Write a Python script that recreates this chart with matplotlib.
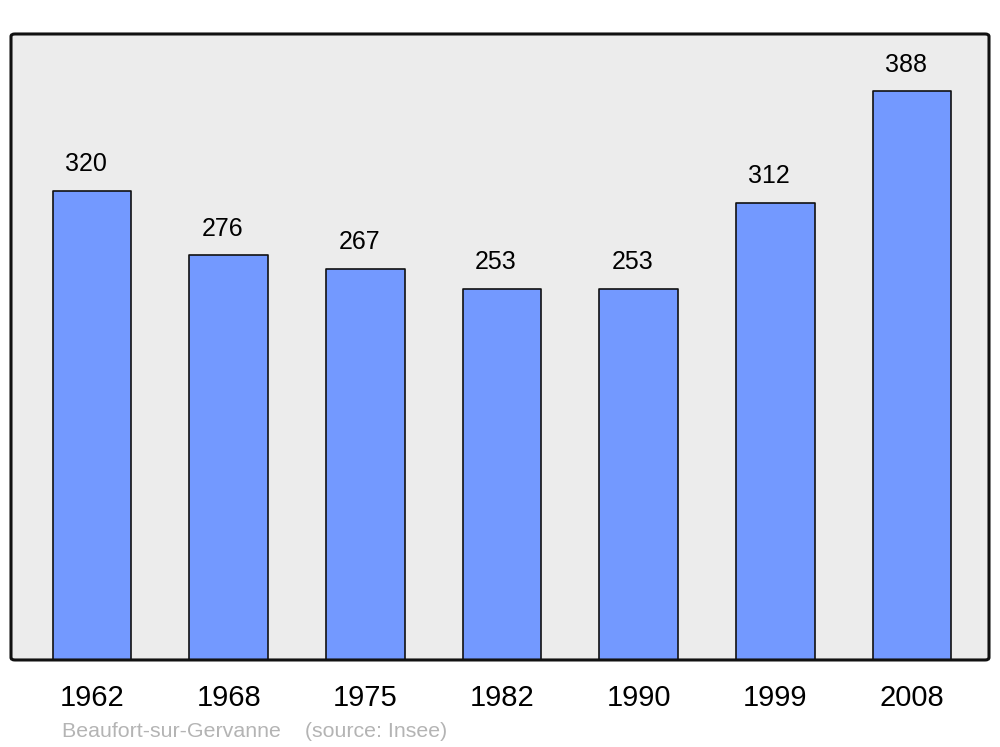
import matplotlib
matplotlib.use('Agg')
import matplotlib.pyplot as plt
from matplotlib.patches import FancyBboxPatch

plt.rcParams['font.family'] = ['Liberation Sans', 'DejaVu Sans']

# population per census year
years = ['1962', '1968', '1975', '1982', '1990', '1999', '2008']
population = [320, 276, 267, 253, 253, 312, 388]
commune = 'Beaufort-sur-Gervanne'
source = '(source: Insee)'

fig = plt.figure(figsize=(10, 7.47), dpi=100)
ax = fig.add_axes([0.011, 0.1165, 0.978, 0.838])

# rounded grey frame
ax.add_patch(FancyBboxPatch((0, 0), 1, 1, boxstyle='round,pad=0,rounding_size=0.004',
                            transform=ax.transAxes, facecolor='#ececec', edgecolor='none',
                            zorder=0, clip_on=False))
ax.add_patch(FancyBboxPatch((0, 0), 1, 1, boxstyle='round,pad=0,rounding_size=0.004',
                            transform=ax.transAxes, facecolor='none', edgecolor='#111111',
                            linewidth=2.2, zorder=5, clip_on=False))

x = list(range(len(years)))
ax.bar(x, population, width=0.575, color='#7399ff', edgecolor='#111111',
       linewidth=1.2, zorder=2, joinstyle='round')

for xi, v in zip(x, population):
    ax.annotate(str(v), (xi, v), xytext=(-4.5, 10.5), textcoords='offset points',
                ha='center', va='bottom', fontsize=18, color='black')

ax.set_xlim(-0.593, 6.563)
ax.set_ylim(0, 427)
ax.set_xticks(x)
ax.set_xticklabels(years, fontsize=21)
ax.tick_params(axis='x', length=0, pad=17)
ax.set_yticks([])
for s in ax.spines.values():
    s.set_visible(False)

fig.text(0.062, 0.008, commune + '    ' + source, fontsize=15.4, color='#b4b4b4',
         ha='left', va='bottom')

fig.savefig('out.png', dpi=100)
